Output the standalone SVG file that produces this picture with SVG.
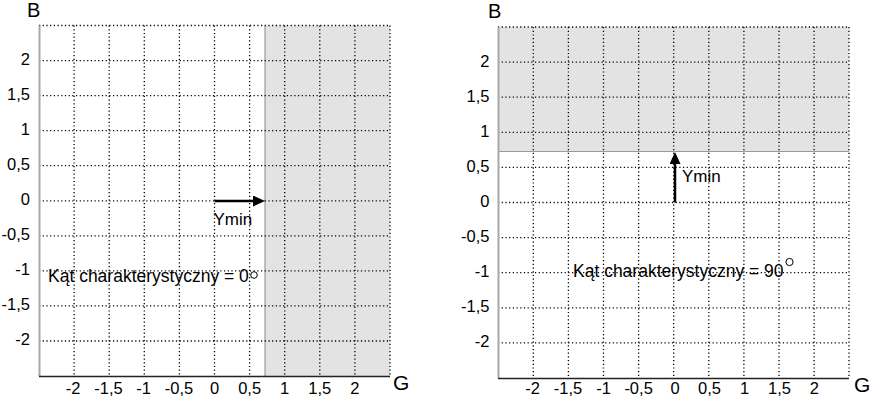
<svg xmlns="http://www.w3.org/2000/svg" width="871" height="398" viewBox="0 0 871 398">
<defs>
<style>
.grid{stroke:#000;stroke-width:1.3;stroke-dasharray:1.2 2.5;fill:none}
.shade{fill:#e3e3e3}
.edge{stroke:#9a9a9a;stroke-width:1.2}
.yaxis{stroke:#a8a8a8;stroke-width:2}
.xaxis{stroke:#222;stroke-width:1.5}
.arr{stroke:#000;stroke-width:2.5}
text{font-family:"Liberation Sans",Arial,sans-serif;fill:#000}
.tick{font-size:16.5px}
.ty{text-anchor:end}
.tx{text-anchor:middle}
.ax{font-size:20px}
.gx{font-size:21px}
.lbl{font-size:17px}
.kat{font-size:17.5px}
.deg{fill:none;stroke:#000;stroke-width:1}
</style>
<marker id="ah" markerUnits="userSpaceOnUse" markerWidth="12" markerHeight="11" refX="0" refY="5.5" orient="auto" viewBox="0 0 12 11">
<path d="M0,0 L12,5.5 L0,11 z" fill="#000"/>
</marker>
</defs>

<g id="plot-left">
<rect class="shade" x="265" y="25.5" width="125" height="350.5"/>
<line class="edge" x1="265" y1="25.5" x2="265" y2="376"/>
<g class="grid">
<path d="M39,25.5H390 M39,60.6H390 M39,95.6H390 M39,130.7H390 M39,165.7H390 M39,200.8H390 M39,235.8H390 M39,270.9H390 M39,305.9H390 M39,341H390"/>
<path d="M74.1,25.5V376 M109.2,25.5V376 M144.3,25.5V376 M179.4,25.5V376 M214.5,25.5V376 M249.6,25.5V376 M284.7,25.5V376 M319.8,25.5V376 M354.9,25.5V376 M390,25.5V376"/>
</g>
<line class="yaxis" x1="39.5" y1="25.5" x2="39.5" y2="376"/>
<line class="xaxis" x1="39" y1="376.5" x2="390" y2="376.5"/>
<text class="ax" x="27" y="17">B</text>
<text class="gx" x="393" y="390">G</text>
<g class="tick ty">
<text x="30" y="65">2</text>
<text x="30" y="100">1,5</text>
<text x="30" y="135">1</text>
<text x="30" y="170">0,5</text>
<text x="30" y="205">0</text>
<text x="30" y="240">-0,5</text>
<text x="30" y="275">-1</text>
<text x="30" y="310">-1,5</text>
<text x="30" y="345">-2</text>
</g>
<g class="tick tx">
<text x="73" y="393.5">-2</text>
<text x="108.5" y="393.5">-1,5</text>
<text x="143.5" y="393.5">-1</text>
<text x="179" y="393.5">-0,5</text>
<text x="214.5" y="393.5">0</text>
<text x="249.6" y="393.5">0,5</text>
<text x="284.7" y="393.5">1</text>
<text x="319.8" y="393.5">1,5</text>
<text x="354.9" y="393.5">2</text>
</g>
<text class="kat" x="48" y="282">Kąt charakterystyczny = 0</text>
<circle class="deg" cx="254" cy="275" r="3.3"/>
<text class="lbl" x="213.5" y="225">Ymin</text>
</g>

<g id="plot-right">
<rect class="shade" x="498" y="27" width="351" height="124.5"/>
<line class="edge" x1="498" y1="151.5" x2="849" y2="151.5"/>
<g class="grid">
<path d="M498,27H849 M498,62.1H849 M498,97.2H849 M498,132.3H849 M498,167.4H849 M498,202.5H849 M498,237.6H849 M498,272.7H849 M498,307.8H849 M498,342.9H849"/>
<path d="M533.3,27V378 M568.4,27V378 M603.5,27V378 M638.6,27V378 M673.7,27V378 M708.8,27V378 M743.9,27V378 M779,27V378 M814.1,27V378 M849,27V378"/>
</g>
<line class="yaxis" x1="498.5" y1="27" x2="498.5" y2="378"/>
<line class="xaxis" x1="498" y1="378.5" x2="849" y2="378.5"/>
<text class="ax" x="488" y="18">B</text>
<text class="gx" x="854" y="392">G</text>
<g class="tick ty">
<text x="489.5" y="66.5">2</text>
<text x="489.5" y="101.5">1,5</text>
<text x="489.5" y="136.5">1</text>
<text x="489.5" y="171.5">0,5</text>
<text x="489.5" y="206.5">0</text>
<text x="489.5" y="241.5">-0,5</text>
<text x="489.5" y="276.5">-1</text>
<text x="489.5" y="311.5">-1,5</text>
<text x="489.5" y="346.5">-2</text>
</g>
<g class="tick tx">
<text x="532.5" y="394">-2</text>
<text x="568" y="394">-1,5</text>
<text x="603.5" y="394">-1</text>
<text x="638.6" y="394">-0,5</text>
<text x="675" y="394">0</text>
<text x="709.5" y="394">0,5</text>
<text x="744.5" y="394">1</text>
<text x="779.5" y="394">1,5</text>
<text x="814.3" y="394">2</text>
</g>
<text class="kat" x="573" y="277">Kąt charakterystyczny = 90</text>
<circle class="deg" cx="789.5" cy="262" r="3.6"/>
<text class="lbl" x="682" y="182">Ymin</text>
</g>

<g id="connectors">
<line class="arr" x1="214.5" y1="201" x2="253" y2="201" marker-end="url(#ah)"/>
<line class="arr" x1="675" y1="202.5" x2="675" y2="164" marker-end="url(#ah)"/>
</g>
</svg>
